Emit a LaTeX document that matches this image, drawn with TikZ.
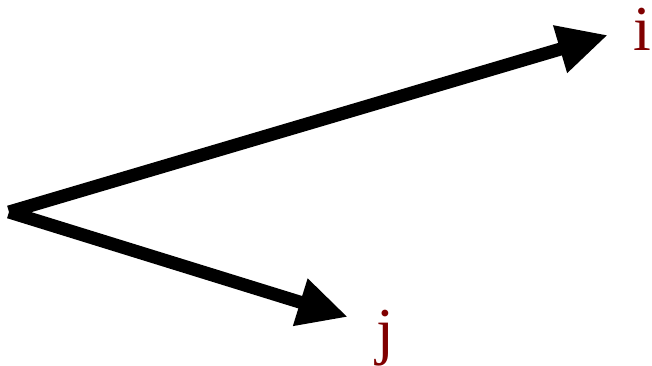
\documentclass[tikz,border=0pt]{standalone}
\usepackage{fontspec}
\setmainfont{Liberation Serif}
\usetikzlibrary{arrows.meta}
\definecolor{lblred}{RGB}{128,0,0}
\tikzset{
  vec/.style={line width=13pt, -{Triangle[length=50pt,width=46pt]}},
  lbl/.style={text=lblred, font=\fontsize{64}{64}\selectfont, anchor=base, inner sep=0pt}
}
\begin{document}
\begin{tikzpicture}[x=1pt,y=1pt]
\useasboundingbox (0,0) rectangle (652,-365);
\coordinate (O) at (9,-212);
\coordinate (ti) at (608,-35);
\coordinate (tj) at (348,-317);
\node[lbl] (i) at (642,-50) {i};
\node[lbl] (j) at (385,-352) {j};
\draw[vec] (O) -- (ti);
\draw[vec] (O) -- (tj);
\end{tikzpicture}
\end{document}
